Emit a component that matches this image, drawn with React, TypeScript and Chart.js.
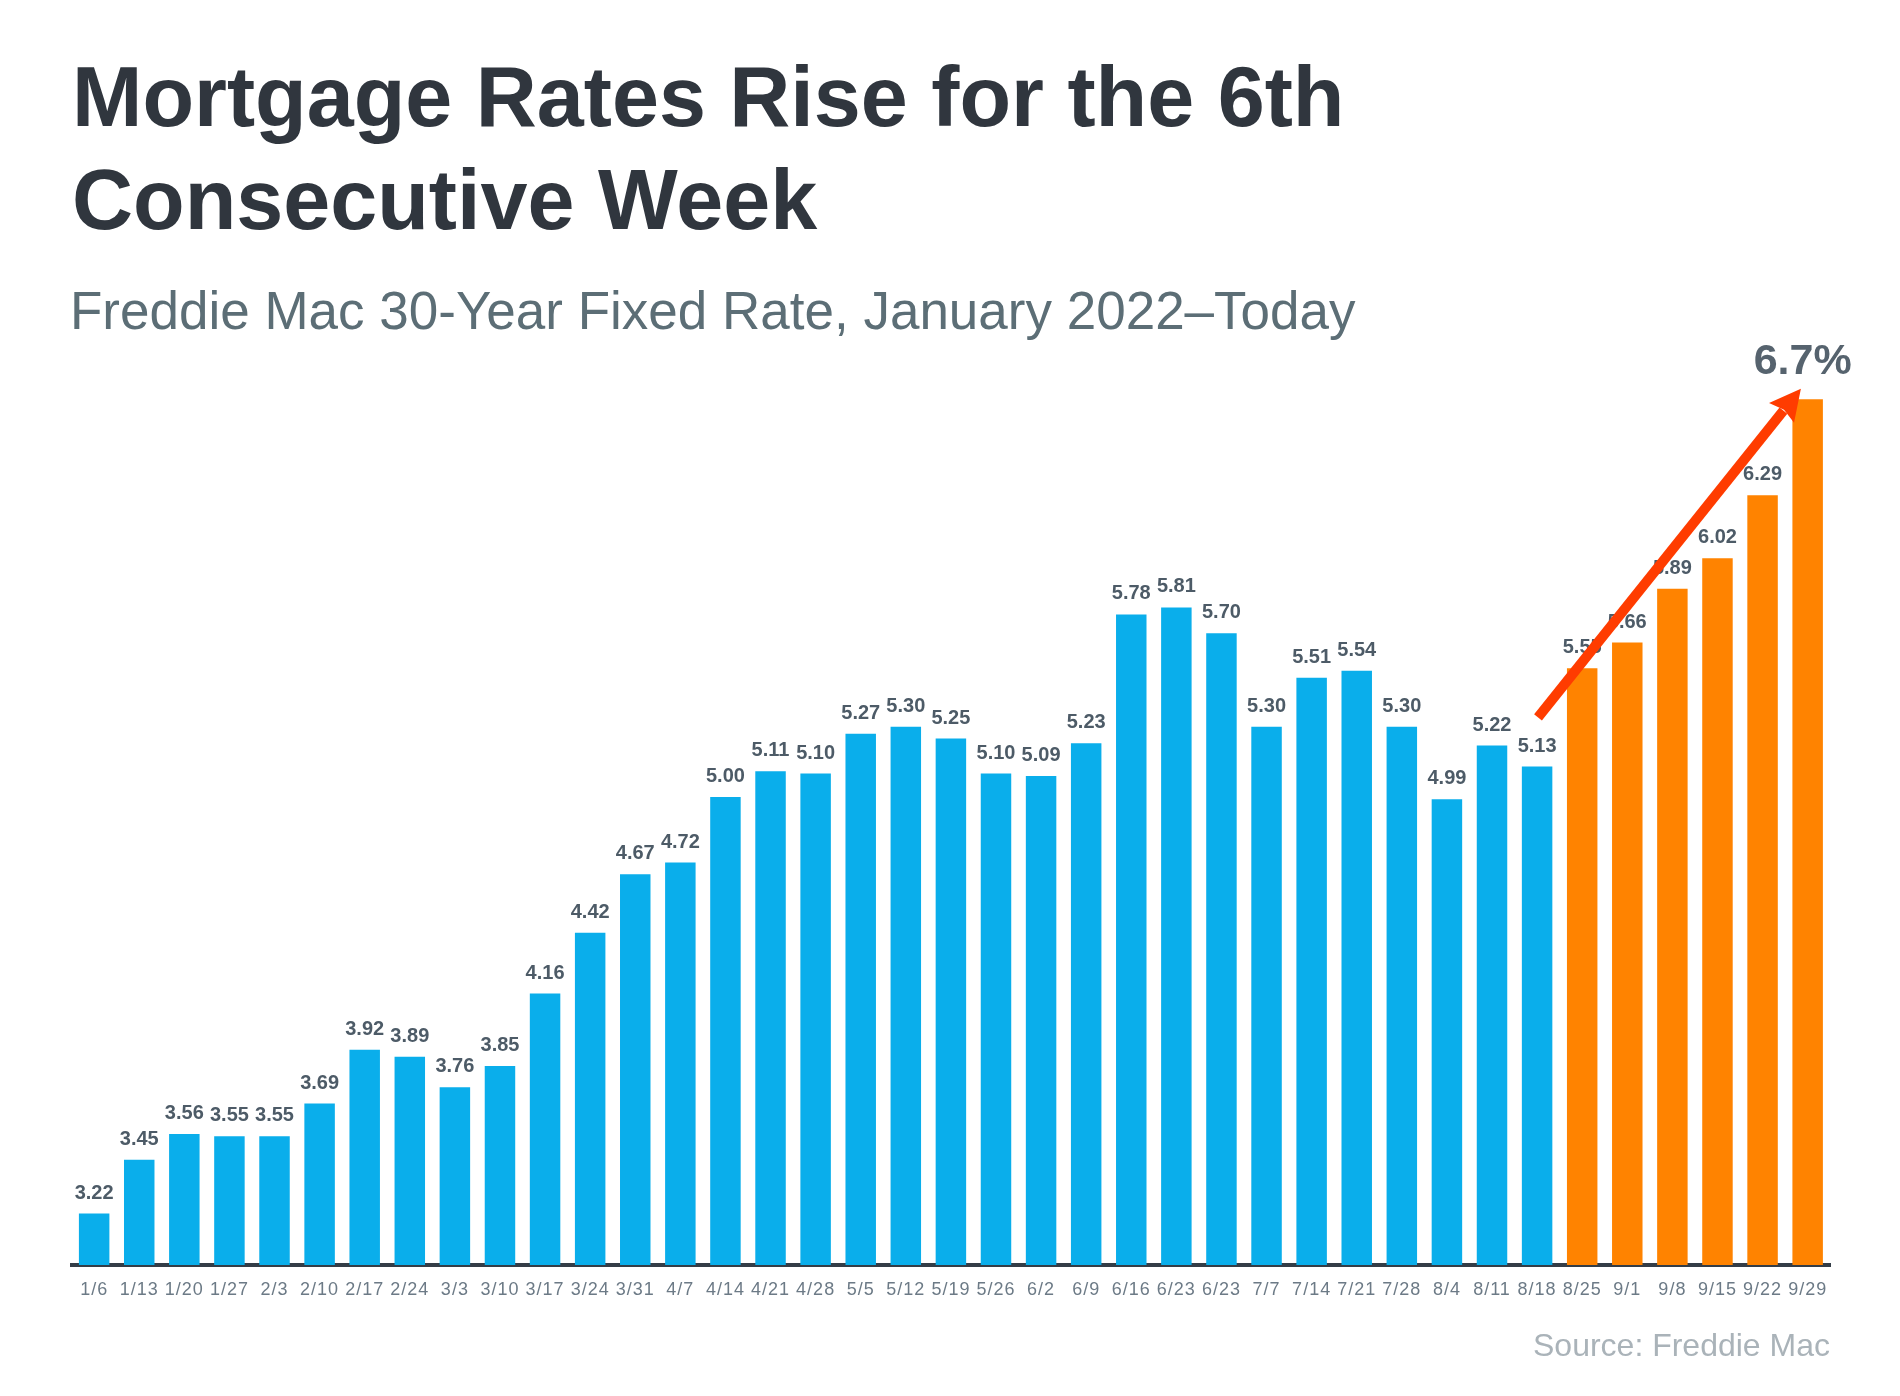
import React, { useEffect, useRef } from "react";
import { Chart, registerables } from "chart.js";

Chart.register(...registerables);

const categories = [
  "1/6", "1/13", "1/20", "1/27", "2/3", "2/10", "2/17", "2/24", "3/3", "3/10",
  "3/17", "3/24", "3/31", "4/7", "4/14", "4/21", "4/28", "5/5", "5/12", "5/19",
  "5/26", "6/2", "6/9", "6/16", "6/23", "6/23", "7/7", "7/14", "7/21", "7/28",
  "8/4", "8/11", "8/18", "8/25", "9/1", "9/8", "9/15", "9/22", "9/29",
];

const rates = [
  3.22, 3.45, 3.56, 3.55, 3.55, 3.69, 3.92, 3.89, 3.76, 3.85,
  4.16, 4.42, 4.67, 4.72, 5.0, 5.11, 5.1, 5.27, 5.3, 5.25,
  5.1, 5.09, 5.23, 5.78, 5.81, 5.7, 5.3, 5.51, 5.54, 5.3,
  4.99, 5.22, 5.13, 5.55, 5.66, 5.89, 6.02, 6.29, 6.7,
];

// first index of the highlighted (rising) weeks
const highlightFrom = 33;
const finalLabel = "6.7%";

// arrow annotation, in data units (category index, rate)
const arrowStart = [32.02, 5.34];
const arrowEnd = [37.85, 6.745];

const yRange = [3, 7];

const BLUE = "#0aaeeb";
const ORANGE = "#ff8300";
const ARROW = "#ff3c00";
const FONT = '"Liberation Sans", Arial, Helvetica, sans-serif';

const spacingPlugin = {
  id: "tickSpacing",
  beforeDraw(chart: any) {
    chart.ctx.letterSpacing = "1px";
  },
};

const annotationPlugin = {
  id: "annotations",
  afterDatasetsDraw(chart: any) {
    const ctx = chart.ctx;
    const meta = chart.getDatasetMeta(0);
    const xs = chart.scales.x;
    const ys = chart.scales.y;
    ctx.save();
    ctx.letterSpacing = "0px";
    ctx.font = `bold 20px ${FONT}`;
    ctx.fillStyle = "#4d5b67";
    ctx.textAlign = "center";
    ctx.textBaseline = "alphabetic";
    meta.data.forEach((bar: any, i: number) => {
      if (i === rates.length - 1) return;
      ctx.fillText(rates[i].toFixed(2), bar.x, bar.y - 15);
    });
    const last = meta.data[rates.length - 1];
    ctx.font = `bold 43px ${FONT}`;
    ctx.fillStyle = "#56636e";
    ctx.fillText(finalLabel, last.x - 5, last.y - 25);

    const x1 = xs.getPixelForValue(arrowStart[0]);
    const y1 = ys.getPixelForValue(arrowStart[1]);
    const x2 = xs.getPixelForValue(arrowEnd[0]);
    const y2 = ys.getPixelForValue(arrowEnd[1]);
    const ang = Math.atan2(y2 - y1, x2 - x1);
    const c = Math.cos(ang);
    const s = Math.sin(ang);
    const headLen = 31;
    const headW = 16;
    const bx = x2 - headLen * c;
    const by = y2 - headLen * s;
    ctx.strokeStyle = ARROW;
    ctx.lineWidth = 10;
    ctx.lineCap = "butt";
    ctx.beginPath();
    ctx.moveTo(x1, y1);
    ctx.lineTo(bx + c * 3, by + s * 3);
    ctx.stroke();
    ctx.fillStyle = ARROW;
    ctx.beginPath();
    ctx.moveTo(x2, y2);
    ctx.lineTo(bx - s * headW, by + c * headW);
    ctx.lineTo(bx + c * 4, by + s * 4);
    ctx.lineTo(bx + s * headW, by - c * headW);
    ctx.closePath();
    ctx.fill();
    ctx.restore();
  },
};

export default function App() {
  const canvasRef = useRef<HTMLCanvasElement | null>(null);

  useEffect(() => {
    if (!canvasRef.current) return;
    const chart = new Chart(canvasRef.current, {
      type: "bar",
      data: {
        labels: categories,
        datasets: [
          {
            data: rates,
            backgroundColor: rates.map((_, i) => (i >= highlightFrom ? ORANGE : BLUE)),
            barPercentage: 0.676,
            categoryPercentage: 1,
          },
        ],
      },
      options: {
        responsive: false,
        animation: false,
        devicePixelRatio: 1,
        layout: { padding: { left: 71.6, right: 69.8, top: 329, bottom: 95 } },
        plugins: {
          legend: { display: false },
          title: { display: false },
          tooltip: { enabled: false },
        },
        scales: {
          x: {
            grid: { display: false, drawTicks: false },
            border: { display: true, color: "#343d47", width: 4 },
            afterFit: (scale: any) => {
              scale.height = 36;
            },
            ticks: {
              color: "#6c7a86",
              font: { family: FONT, size: 18 },
              padding: 14,
              maxRotation: 0,
              autoSkip: false,
            },
          },
          y: {
            display: false,
            min: yRange[0],
            max: yRange[1],
          },
        },
      },
      plugins: [spacingPlugin, annotationPlugin],
    });
    return () => chart.destroy();
  }, []);

  return (
    <div
      style={{
        position: "absolute",
        left: 0,
        top: 0,
        width: 1900,
        height: 1396,
        background: "#ffffff",
        overflow: "hidden",
        fontFamily: FONT,
      }}
    >
      <canvas
        ref={canvasRef}
        width={1900}
        height={1396}
        style={{ position: "absolute", left: 0, top: 0, width: 1900, height: 1396 }}
      />
      <div
        style={{
          position: "absolute",
          left: 72,
          top: 46,
          fontSize: 84.5,
          lineHeight: "103px",
          fontWeight: "bold",
          color: "#30363e",
          whiteSpace: "nowrap",
        }}
      >
        Mortgage Rates Rise for the 6th
        <br />
        Consecutive Week
      </div>
      <div
        style={{
          position: "absolute",
          left: 70,
          top: 284,
          fontSize: 53,
          lineHeight: "53px",
          color: "#5c6e76",
          whiteSpace: "nowrap",
        }}
      >
        Freddie Mac 30-Year Fixed Rate, January 2022–Today
      </div>
      <div
        style={{
          position: "absolute",
          right: 70,
          top: 1329,
          fontSize: 32,
          lineHeight: "32px",
          color: "#aab3b9",
          whiteSpace: "nowrap",
        }}
      >
        Source: Freddie Mac
      </div>
    </div>
  );
}
